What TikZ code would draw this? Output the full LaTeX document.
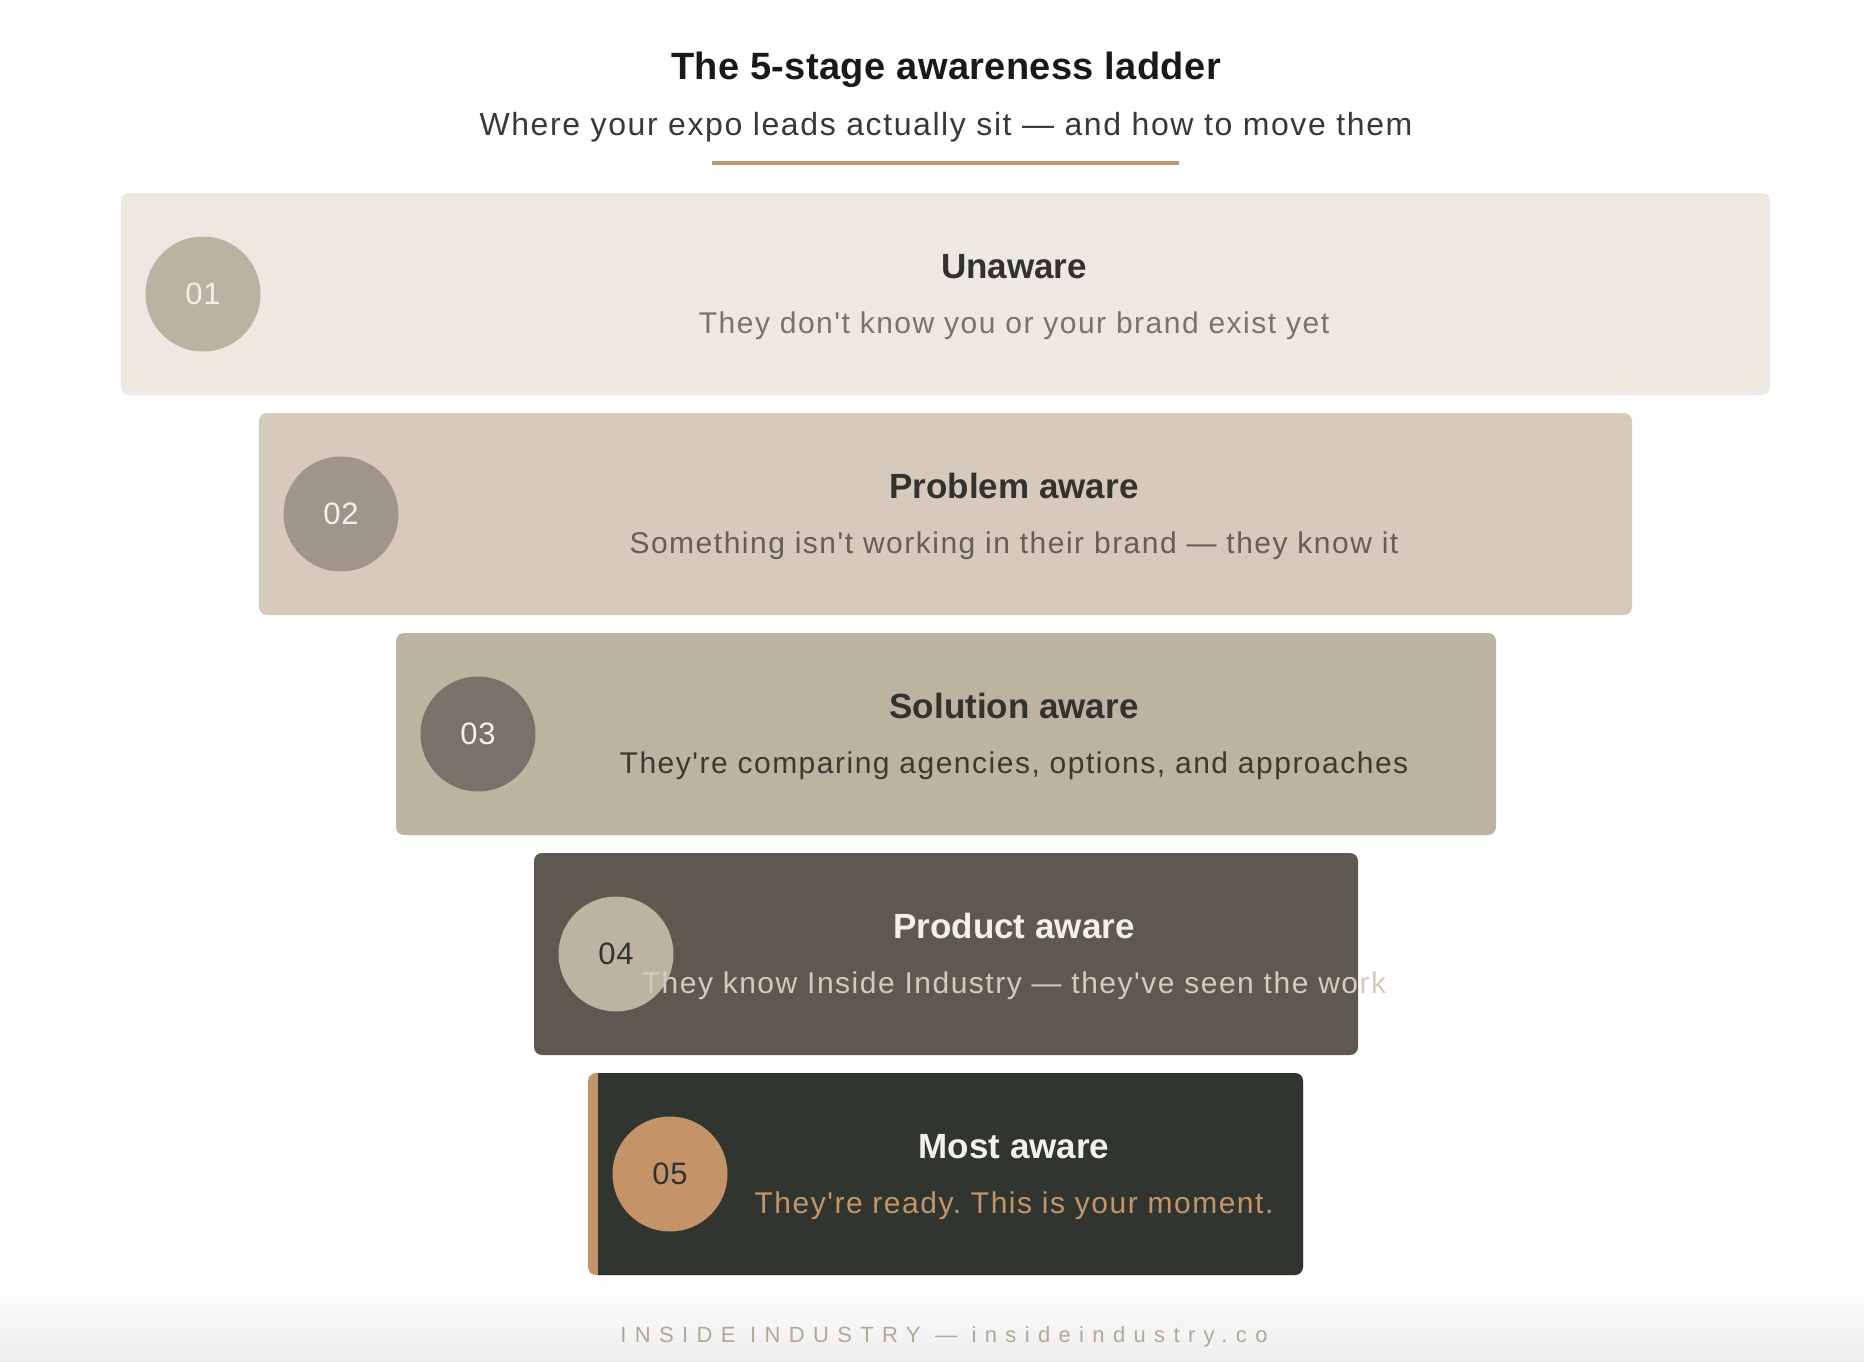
\documentclass[tikz,border=0pt]{standalone}
\usepackage{fontspec}
\setmainfont{Liberation Sans}[Ligatures=TeXOff]
\frenchspacing
\definecolor{bgA}{HTML}{EDE8E1}
\definecolor{bgB}{HTML}{D6CABC}
\definecolor{bgC}{HTML}{BCB3A1}
\definecolor{bgD}{HTML}{5D5850}
\definecolor{bgE}{HTML}{31352F}
\definecolor{ciA}{HTML}{BBB2A2}
\definecolor{ciB}{HTML}{A0958A}
\definecolor{ciC}{HTML}{7A7268}
\definecolor{ciD}{HTML}{BDB3A2}
\definecolor{ciE}{HTML}{C49468}
\definecolor{lightT}{HTML}{F3F0EA}
\definecolor{darkT}{HTML}{30332E}
\definecolor{subA}{HTML}{7A7368}
\definecolor{subB}{HTML}{655E55}
\definecolor{subC}{HTML}{3A3A33}
\definecolor{subD}{HTML}{D6CABC}
\definecolor{accent}{HTML}{C4956A}
\definecolor{foot}{HTML}{B3A898}
\tikzset{
  stagebox/.style={rounded corners=8pt},
  numcirc/.style={circle, minimum size=115pt, inner sep=0pt, font=\fontsize{31}{36}\selectfont\addfontfeatures{LetterSpace=2}},
  stagetitle/.style={font=\fontsize{35}{40}\selectfont\bfseries, anchor=base, inner sep=0pt},
  stagesub/.style={font=\fontsize{30}{36}\selectfont\addfontfeatures{LetterSpace=5}, anchor=base, inner sep=0pt},
}
\begin{document}
\begin{tikzpicture}[x=1pt,y=-1pt]
\useasboundingbox (0,0) rectangle (1864,1362);
\fill[white] (0,0) rectangle (1864,1362);
\shade[top color=white, bottom color=black!7] (0,1280) rectangle (1864,1362);
% header
\node[font=\fontsize{38}{44}\selectfont\bfseries\addfontfeatures{LetterSpace=1}, text={black!90}, anchor=base, inner sep=0pt] (title) at (946,80) {The 5-stage awareness ladder};
\node[font=\fontsize{32}{38}\selectfont\addfontfeatures{LetterSpace=5}, text={black!78}, anchor=base, inner sep=0pt] (subtitle) at (946,136) {Where your expo leads actually sit — and how to move them};
\draw[accent, line width=4pt] (712,163) -- (1179,163);
% stage 1
\fill[bgA, stagebox] (121,193) rectangle (1770,395);
\node[numcirc, fill=ciA, text=lightT] (c1) at (203,294) {01};
\node[stagetitle, text=darkT] (t1) at (1014,278) {Unaware};
\node[stagesub, text=subA] (s1) at (1014,333) {They don't know you or your brand exist yet};
% stage 2
\fill[bgB, stagebox] (259,413) rectangle (1632,615);
\node[numcirc, fill=ciB, text=lightT] (c2) at (341,514) {02};
\node[stagetitle, text=darkT] (t2) at (1014,498) {Problem aware};
\node[stagesub, text=subB] (s2) at (1014,553) {Something isn't working in their brand — they know it};
% stage 3
\fill[bgC, stagebox] (396,633) rectangle (1496,835);
\node[numcirc, fill=ciC, text=lightT] (c3) at (478,734) {03};
\node[stagetitle, text=darkT] (t3) at (1014,718) {Solution aware};
\node[stagesub, text=subC] (s3) at (1014,773) {They're comparing agencies, options, and approaches};
% stage 4
\fill[bgD, stagebox] (534,853) rectangle (1358,1055);
\node[numcirc, fill=ciD, text=darkT] (c4) at (616,954) {04};
\node[stagetitle, text=lightT] (t4) at (1014,938) {Product aware};
\node[stagesub, text=subD] (s4) at (1014,993) {They know Inside Industry — they've seen the work};
% stage 5
\fill[accent, stagebox] (588,1073) rectangle (1303,1275);
\begin{scope}
\clip (598,1060) rectangle (1320,1290);
\fill[bgE, stagebox] (570,1073) rectangle (1303,1275);
\end{scope}
\node[numcirc, fill=ciE, text=darkT] (c5) at (670,1174) {05};
\node[stagetitle, text=lightT] (t5) at (1014,1158) {Most aware};
\node[stagesub, text=accent] (s5) at (1014,1213) {They're ready. This is your moment.};
% footer
\node[font=\fontsize{22}{26}\selectfont\addfontfeatures{LetterSpace=38}, text=foot, anchor=base, inner sep=0pt] (footer) at (944,1342) {INSIDE INDUSTRY — insideindustry.co};
\end{tikzpicture}
\end{document}
